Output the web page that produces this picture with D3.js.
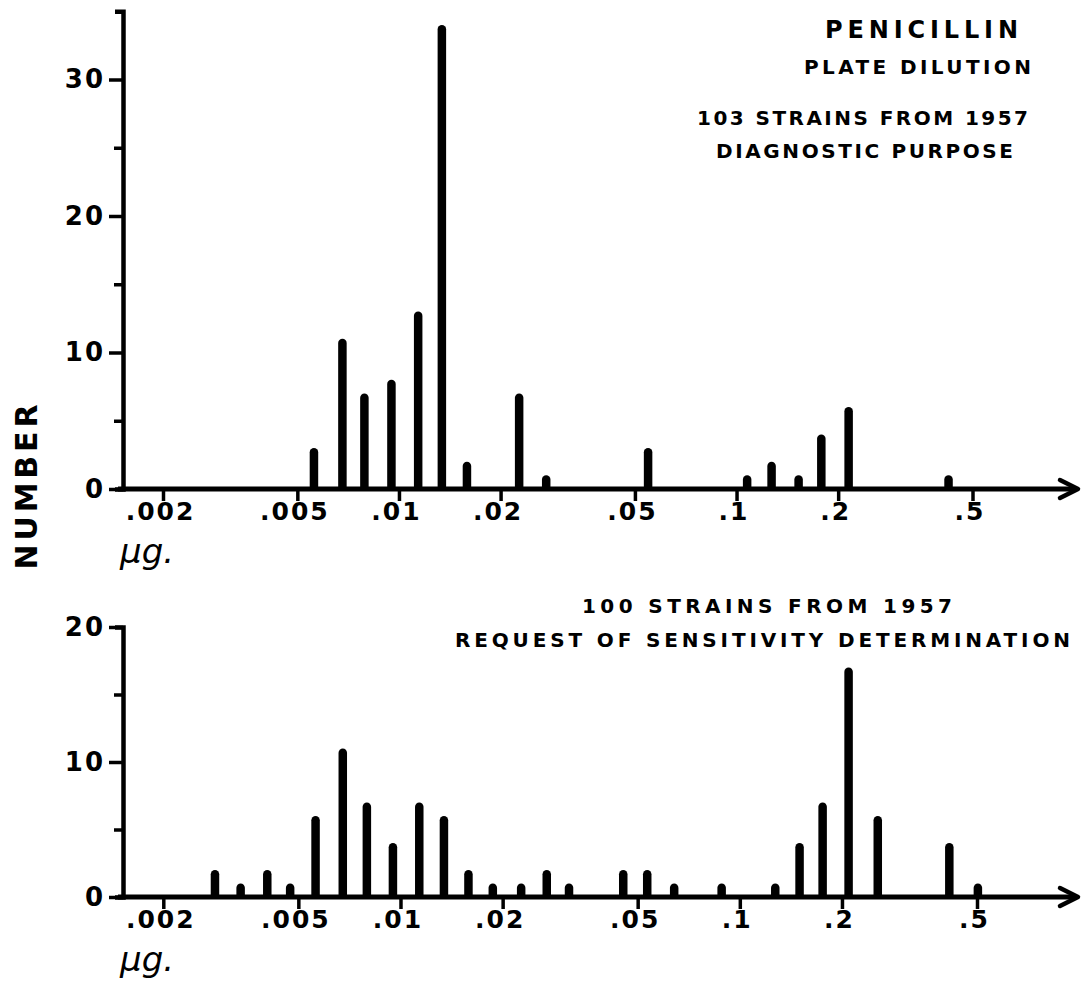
<!DOCTYPE html>
<html>
<head>
<meta charset="utf-8">
<script src="https://cdn.jsdelivr.net/npm/d3@7"></script>
<style>
  html, body { margin: 0; padding: 0; background: #fff; }
  svg { display: block; }
  text { font-family: "DejaVu Sans", sans-serif; fill: #000; }
</style>
</head>
<body>
<script>
// ---------- DATA ----------
const tickValues = [0.002, 0.005, 0.01, 0.02, 0.05, 0.1, 0.2, 0.5];
const tickLabels = [".002", ".005", ".01", ".02", ".05", ".1", ".2", ".5"];

// Panel 1: 103 strains, diagnostic purpose
const topConc   = [0.0056, 0.0068, 0.0079, 0.0095, 0.0114, 0.0134, 0.0159, 0.0227, 0.0273, 0.0547, 0.1075, 0.127, 0.1527, 0.1783, 0.2148, 0.4246];
const topCounts = [3, 11, 7, 8, 13, 34, 2, 7, 1, 3, 1, 2, 1, 4, 6, 1];
const topYTicks = [0, 5, 10, 15, 20, 25, 30];
const topYLabels = ["0", "", "10", "", "20", "", "30"];

// Panel 2: 100 strains, request of sensitivity determination
const botConc   = [0.00284, 0.00338, 0.00405, 0.00473, 0.00562, 0.00676, 0.00796, 0.0095, 0.01136, 0.01343, 0.01586, 0.01871, 0.02268, 0.02698, 0.03138, 0.04534, 0.05335, 0.06406, 0.0884, 0.1272, 0.15, 0.1754, 0.2092, 0.255, 0.4144, 0.503];
const botCounts = [2, 1, 2, 1, 6, 11, 7, 4, 7, 6, 2, 1, 1, 2, 1, 2, 2, 1, 1, 1, 4, 7, 17, 6, 4, 1];
const botYTicks = [0, 5, 10, 15, 20];
const botYLabels = ["0", "", "10", "", "20"];

const topTitles = ["PENICILLIN", "PLATE DILUTION", "103 STRAINS FROM 1957", "DIAGNOSTIC PURPOSE"];
const botTitles = ["100 STRAINS FROM 1957", "REQUEST OF SENSITIVITY DETERMINATION"];
const yTitle = "NUMBER";
const unitLabel = "μg.";

// ---------- DRAW ----------
const W = 1087, H = 986;
const svg = d3.select("body").append("svg").attr("width", W).attr("height", H);

const axisX = 123;

function panel(cfg) {
  const x = d3.scaleLog().domain([0.002, 0.5]).range(cfg.xRange);
  const y = d3.scaleLinear().domain(cfg.yDomain).range(cfg.yRange);
  const g = svg.append("g");
  const y0 = y(0);

  // bars
  const data = cfg.conc.map((c, i) => ({ c, n: cfg.counts[i] }));
  g.selectAll("rect.bar").data(data).join("rect")
    .attr("class", "bar")
    .attr("x", d => x(d.c) - 4.25)
    .attr("width", 8.5)
    .attr("y", d => y(d.n))
    .attr("height", d => y0 - y(d.n) + 2)
    .attr("rx", 4.25)
    .attr("fill", "#000");

  // x axis with ticks
  const xAxis = d3.axisBottom(x).tickValues(tickValues)
    .tickFormat((d, i) => tickLabels[i]).tickSize(12).tickPadding(8);
  const xg = g.append("g").attr("transform", `translate(0,${y0})`).call(xAxis);
  xg.select(".domain").remove();
  xg.selectAll(".tick line").attr("stroke", "#000").attr("stroke-width", 3.5);
  xg.selectAll(".tick text")
    .style("font-size", "25px").style("font-family", "DejaVu Sans").style("font-weight", "bold")
    .attr("letter-spacing", 2).attr("dx", -3).attr("dy", "0.95em").attr("y", 7)
    .attr("fill", "#000");

  // x axis line with arrow
  g.append("line").attr("x1", axisX - 5).attr("x2", 1076)
    .attr("y1", y0).attr("y2", y0)
    .attr("stroke", "#000").attr("stroke-width", 5);
  g.append("path")
    .attr("d", `M1060,${y0 - 9} L1078,${y0} L1060,${y0 + 9}`)
    .attr("fill", "none").attr("stroke", "#000").attr("stroke-width", 4.5)
    .attr("stroke-linecap", "round").attr("stroke-linejoin", "round");

  // y axis
  const yAxis = d3.axisLeft(y).tickValues(cfg.yTicks)
    .tickFormat((d, i) => cfg.yLabels[i]).tickSize(14).tickSizeOuter(8).tickPadding(4);
  const yg = g.append("g").attr("transform", `translate(${axisX},0)`).call(yAxis);
  yg.select(".domain").attr("stroke", "#000").attr("stroke-width", 4.5).attr("fill", "none");
  yg.selectAll(".tick line")
    .attr("stroke", "#000").attr("stroke-width", 3.5)
    .attr("x2", (d, i) => cfg.yLabels[i] === "" ? -9 : -14);
  yg.selectAll(".tick text")
    .style("font-size", "26px").style("font-family", "DejaVu Sans").style("font-weight", "bold")
    .attr("letter-spacing", 2).attr("fill", "#000").attr("x", -18);

  // unit label
  g.append("text").attr("x", 120).attr("y", y0 + 74)
    .style("font-size", "34px").style("font-style", "italic").style("font-weight", "normal")
    .text(unitLabel);

  return g;
}

panel({
  xRange: [163, 972.5], yDomain: [0, 35], yRange: [489, 11.25],
  conc: topConc, counts: topCounts, yTicks: topYTicks, yLabels: topYLabels
});
panel({
  xRange: [163.3, 977], yDomain: [0, 20], yRange: [897, 627],
  conc: botConc, counts: botCounts, yTicks: botYTicks, yLabels: botYLabels
});

// titles
const titleSpec = [
  { t: topTitles[0], x: 825, y: 38, size: 24, len: 193 },
  { t: topTitles[1], x: 804, y: 74, size: 20, len: 227 },
  { t: topTitles[2], x: 697, y: 125, size: 20, len: 331 },
  { t: topTitles[3], x: 716, y: 158, size: 20, len: 297 },
  { t: botTitles[0], x: 582, y: 613, size: 20, len: 370 },
  { t: botTitles[1], x: 455, y: 647, size: 20, len: 615 }
];
svg.selectAll("text.title").data(titleSpec).join("text")
  .attr("class", "title")
  .attr("x", d => d.x).attr("y", d => d.y)
  .style("font-size", d => d.size + "px").style("font-weight", "bold")
  .attr("textLength", d => d.len).attr("lengthAdjust", "spacing")
  .text(d => d.t);

// y title
svg.append("text")
  .attr("transform", "translate(37,487) rotate(-90)")
  .attr("text-anchor", "middle")
  .style("font-size", "30px").style("font-weight", "bold")
  .attr("textLength", 165).attr("lengthAdjust", "spacing")
  .text(yTitle);
</script>
</body>
</html>
